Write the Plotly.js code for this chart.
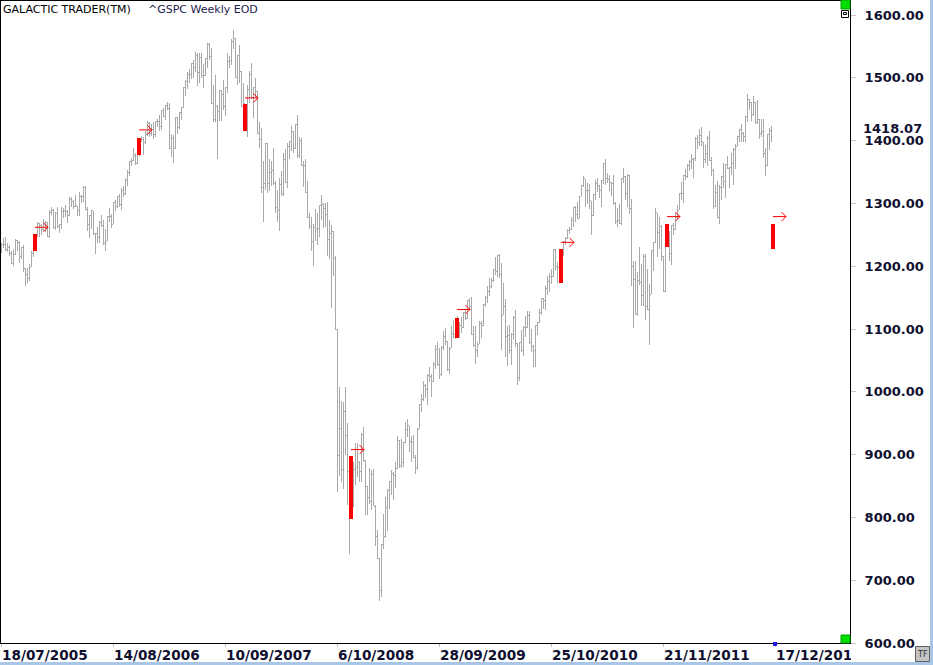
<!DOCTYPE html>
<html><head><meta charset="utf-8">
<script src="https://cdn.plot.ly/plotly-3.0.1.min.js"></script>
<style>
html,body{margin:0;padding:0;background:#fff;}
#wrap{position:relative;width:933px;height:665px;overflow:hidden;}
#chart{width:933px;height:665px;}
.clip{position:absolute;background:#fff;}
#clipA{left:851px;top:645px;width:10px;height:17px;}
#clipB{left:851px;top:650px;width:24px;height:12px;}
.ohlclayer path{shape-rendering:crispEdges;}
</style></head><body>
<div id="wrap"><div id="chart"></div><div class="clip" id="clipA"></div><div class="clip" id="clipB"></div></div>
<script>
// ---- DATA: ^GSPC weekly bars, first week starting 2005-07-18 ----
const firstWeek = '2005-07-18';
const weekOpen = [
 1228,1234,1234,1226,1230,1220,1205,1218,1241,1238,1215,1229,1196,1187,1180,1198,1220,1235,1248,1268,1265,1259,1267,1269,
 1248,1285,1288,1261,1284,1264,1267,1287,1289,1287,1281,1307,1303,1295,1296,1289,1311,1311,1326,1291,1267,1280,1288,1252,1252,1245,1270,1265,1236,1240,1279,1279,1267,1302,1295,1311,1299,1320,1315,1336,1350,1366,1369,1377,1364,1381,1401,1401,1397,1410,1427,1411,
 1418,1410,1431,1431,1422,1448,1438,1456,1451,1387,1403,1387,1436,1421,1444,1453,1484,1494,1506,1506,1523,1516,1536,1508,1533,1503,1503,1530,1553,1534,1459,1433,1454,1446,1479,1474,1454,1484,1526,1527,1558,1562,1501,1535,1510,1454,1459,1441,1481,1505,1468,1484,
 1478,1412,1401,1325,1331,1395,1331,1350,1353,1331,1293,1288,1330,1315,1370,1333,1390,1398,1414,1388,1425,1376,1400,1361,1360,1318,1278,1263,1239,1261,1258,1260,1296,1298,1292,1283,1242,1252,1255,1213,1099,899,941,877,969,931,873,800,888,876,880,888,873,
 932,890,850,832,826,869,818,770,735,683,757,769,816,843,857,870,866,878,923,883,887,919,940,946,921,919,896,879,940,979,987,1010,1004,1026,1025,1016,1043,1068,1044,1027,1071,1088,1080,1036,1069,1093,1091,1091,1106,1106,1102,1126,
 1116,1145,1136,1092,1074,1066,1076,1109,1105,1139,1150,1160,1167,1178,1194,1192,1217,1187,1122,1136,1088,1089,1065,1092,1118,1077,1023,1078,1065,1103,1102,1122,1079,1072,1065,1105,1110,1126,1149,1146,1165,1176,1183,1183,1226,1199,1198,1189,1225,1240,1244,1257,
 1258,1272,1293,1283,1276,1311,1329,1339,1320,1321,1304,1280,1314,1332,1328,1320,1337,1364,1340,1338,1333,1331,1300,1271,1272,1268,1340,1343,1316,1345,1292,1199,1179,1124,1177,1174,1154,1216,1136,1131,1155,1225,1238,1285,1253,1264,1216,1159,1244,1255,1220,1265,
 1258,1278,1289,1315,1316,1345,1343,1361,1366,1370,1371,1404,1397,1408,1398,1370,1379,1403,1369,1353,1295,1318,1278,1326,1343,1335,1362,1355,1357,1363,1386,1391,1406,1418,1411,1407,1438,1466,1460,1441,1461,1429,1433,1412,1414,1380,1360,1409,1416
];
const weekHigh = [
 1237,1245,1246,1237,1234,1224,1227,1243,1242,1240,1229,1233,1197,1197,1204,1224,1235,1249,1270,1269,1267,1275,1272,1271,
 1290,1295,1291,1286,1294,1267,1294,1292,1298,1289,1310,1310,1306,1314,1296,1318,1313,1327,1327,1294,1281,1290,1288,1253,1263,1272,1281,1273,1260,1280,1292,1283,1302,1305,1312,1315,1324,1328,1340,1353,1366,1373,1389,1381,1388,1403,1407,1406,1415,1432,1429,1427,
 1429,1431,1435,1440,1449,1452,1457,1462,1460,1410,1409,1438,1438,1445,1453,1485,1496,1510,1514,1523,1529,1541,1539,1539,1540,1522,1532,1556,1556,1547,1488,1504,1456,1479,1481,1496,1485,1539,1534,1562,1576,1563,1536,1553,1511,1492,1459,1489,1511,1524,1485,1499,
 1479,1429,1420,1368,1396,1396,1370,1367,1388,1335,1321,1341,1352,1380,1386,1396,1399,1423,1416,1426,1440,1406,1404,1368,1370,1335,1285,1278,1267,1291,1284,1297,1313,1300,1301,1303,1274,1265,1256,1216,1100,1007,985,984,1008,951,882,896,889,919,919,890,935,
 944,891,850,878,875,877,819,780,735,758,805,833,846,857,876,872,889,930,923,925,920,952,956,946,930,932,899,943,980,997,1018,1013,1028,1040,1028,1048,1075,1080,1070,1073,1097,1101,1081,1071,1105,1114,1112,1120,1111,1119,1127,1130,
 1145,1150,1151,1104,1105,1080,1112,1112,1139,1153,1169,1181,1181,1195,1214,1217,1220,1205,1174,1147,1105,1106,1093,1121,1131,1078,1078,1099,1104,1121,1129,1129,1100,1074,1105,1111,1132,1149,1150,1168,1184,1189,1196,1227,1227,1207,1199,1226,1240,1247,1259,1263,
 1278,1293,1296,1303,1311,1330,1344,1339,1332,1331,1304,1315,1338,1340,1329,1338,1365,1371,1348,1346,1334,1345,1302,1293,1299,1341,1357,1343,1347,1345,1307,1209,1209,1191,1231,1204,1220,1220,1196,1171,1225,1238,1293,1285,1278,1266,1216,1260,1267,1256,1265,1269,
 1285,1297,1316,1334,1345,1354,1363,1369,1378,1372,1406,1409,1419,1422,1398,1393,1407,1415,1374,1355,1329,1335,1329,1343,1364,1362,1375,1357,1380,1389,1394,1407,1419,1427,1414,1438,1475,1466,1461,1471,1461,1464,1434,1434,1434,1389,1409,1420,1424
];
const weekLow = [
 1221,1229,1225,1222,1216,1205,1201,1218,1225,1205,1211,1191,1168,1173,1176,1198,1215,1226,1246,1246,1250,1256,1254,1248,
 1245,1282,1260,1258,1261,1253,1260,1277,1278,1269,1280,1295,1291,1294,1280,1280,1300,1303,1290,1256,1245,1259,1250,1219,1237,1237,1263,1233,1224,1240,1270,1261,1267,1288,1292,1294,1290,1310,1314,1327,1344,1359,1367,1361,1363,1375,1397,1377,1394,1408,1406,1408,
 1403,1405,1422,1416,1417,1437,1433,1448,1386,1374,1364,1386,1411,1418,1433,1452,1471,1482,1491,1498,1500,1510,1487,1492,1500,1484,1503,1515,1529,1458,1430,1429,1371,1431,1432,1449,1439,1476,1516,1521,1546,1500,1489,1492,1453,1438,1416,1406,1460,1467,1436,1468,
 1411,1389,1317,1270,1322,1316,1320,1327,1330,1284,1270,1256,1312,1312,1332,1324,1370,1383,1380,1386,1373,1373,1359,1326,1317,1278,1260,1225,1200,1240,1234,1247,1274,1261,1263,1217,1212,1134,1185,1098,840,866,857,845,900,819,741,800,816,851,864,857,857,
 889,804,804,821,812,818,754,734,667,673,749,768,779,814,835,827,847,877,879,879,880,919,928,904,889,896,869,875,940,968,986,990,979,1016,991,1016,1036,1041,1020,1025,1066,1074,1033,1029,1069,1085,1084,1086,1086,1093,1102,1115,
 1116,1131,1090,1072,1045,1056,1076,1086,1105,1135,1141,1152,1165,1175,1186,1183,1182,1066,1122,1056,1041,1060,1042,1083,1071,1011,1018,1063,1057,1088,1102,1076,1063,1040,1040,1091,1110,1122,1132,1131,1154,1159,1171,1183,1194,1173,1176,1174,1217,1233,1243,1251,
 1257,1262,1271,1275,1276,1311,1326,1294,1299,1291,1249,1280,1306,1318,1309,1295,1331,1329,1333,1319,1311,1297,1268,1262,1267,1265,1333,1306,1295,1283,1168,1102,1122,1121,1170,1136,1136,1114,1131,1075,1155,1192,1237,1215,1227,1209,1159,1159,1231,1209,1202,1249,
 1258,1274,1289,1306,1301,1337,1340,1352,1354,1340,1368,1386,1391,1392,1357,1365,1359,1367,1343,1291,1295,1277,1267,1306,1324,1309,1354,1325,1345,1329,1355,1391,1397,1398,1397,1397,1429,1449,1431,1439,1426,1427,1403,1405,1373,1343,1360,1385,1398
];
const weekClose = [
 1234,1234,1226,1230,1220,1205,1218,1241,1238,1215,1229,1196,1187,1180,1198,1220,1235,1248,1268,1265,1259,1267,1269,1248,
 1285,1288,1261,1284,1264,1267,1287,1289,1287,1281,1307,1303,1295,1296,1289,1311,1311,1326,1291,1267,1280,1288,1252,1252,1245,1270,1265,1236,1240,1279,1279,1267,1302,1295,1311,1299,1320,1315,1336,1350,1366,1369,1377,1364,1381,1401,1401,1397,1410,1427,1411,1418,
 1410,1431,1431,1422,1448,1438,1456,1451,1387,1403,1387,1436,1421,1444,1453,1484,1494,1506,1506,1523,1516,1536,1508,1533,1503,1503,1530,1553,1534,1459,1433,1454,1446,1479,1474,1454,1484,1526,1527,1558,1562,1501,1535,1510,1454,1459,1441,1481,1505,1468,1484,1478,
 1412,1401,1325,1331,1395,1331,1350,1353,1331,1293,1288,1330,1315,1370,1333,1390,1398,1414,1388,1425,1376,1400,1361,1360,1318,1278,1263,1239,1261,1258,1260,1296,1298,1292,1283,1242,1252,1255,1213,1099,899,941,877,969,931,873,800,896,876,880,888,873,932,
 890,850,832,826,869,827,770,735,683,757,769,816,843,857,870,866,878,929,883,887,919,940,946,921,919,896,879,940,979,987,1010,1004,1026,1029,1016,1043,1068,1044,1025,1071,1088,1080,1036,1069,1093,1091,1091,1106,1106,1102,1126,1115,
 1145,1136,1092,1074,1066,1076,1109,1104,1139,1150,1160,1167,1178,1194,1192,1217,1187,1111,1136,1088,1089,1065,1092,1118,1077,1023,1078,1065,1103,1102,1122,1079,1072,1065,1105,1110,1126,1149,1146,1165,1176,1183,1183,1226,1199,1200,1189,1225,1240,1244,1257,1258,
 1272,1293,1283,1276,1311,1329,1343,1320,1321,1304,1279,1314,1332,1328,1320,1337,1364,1340,1338,1333,1331,1300,1271,1272,1268,1340,1344,1316,1345,1292,1199,1179,1124,1177,1174,1154,1216,1136,1131,1155,1225,1238,1285,1253,1264,1216,1159,1244,1255,1220,1265,1258,
 1278,1289,1315,1316,1345,1343,1361,1366,1370,1371,1404,1397,1408,1398,1370,1379,1403,1369,1353,1295,1318,1278,1326,1343,1335,1362,1355,1357,1363,1386,1391,1406,1418,1411,1407,1438,1466,1460,1441,1461,1429,1433,1412,1414,1380,1360,1409,1416,1418.07
];
// highlighted (red) weeks, as week numbers counted from firstWeek
const markWeek  = [17, 69, 122, 175, 228, 280, 333, 386];
const markOpen  = [1235, 1381, 1459, 800, 1093, 1189, 1245, 1245];
const markHigh  = [1251, 1404, 1459, 897, 1118, 1227, 1267, 1268];
const markLow   = [1225, 1377, 1415, 798, 1085, 1173, 1230, 1228];
const markClose = [1248, 1400, 1440, 896, 1106, 1225, 1256, 1254];
const arrowLevel = [1262, 1417, 1468, 908, 1131, 1238, 1279, 1279];
// axis ticks
const xTickDates  = ['2005-07-18','2006-08-14','2007-09-10','2008-10-06','2009-09-28','2010-10-25','2011-11-21','2012-12-17'];
const xTickLabels = ['18/07/2005','14/08/2006','10/09/2007','6/10/2008','28/09/2009','25/10/2010','21/11/2011','17/12/2012'];
const yTickVals = [600,700,800,900,1000,1100,1200,1300,1400,1500,1600];
const chartTitle = 'GALACTIC TRADER(TM)';
const symbolTitle = '^GSPC Weekly EOD';

// ---- helpers ----
const DAY = 86400000;
const t0 = Date.parse(firstWeek + 'T00:00:00Z');
function weekDate(i){ return new Date(t0 + i*7*DAY).toISOString().slice(0,10); }
const dates = weekOpen.map((_, i) => weekDate(i));
const markDates = markWeek.map(weekDate);

// plot area in page pixels: x 1..850, y 1..643
const PL = 1, PT = 1, PW = 849, PH = 642;
const px = v => (v - PL) / PW;
const py = v => (PT + PH - v) / PH;

const navy = '#101030';
const labFont = {family:'DejaVu Sans', size:13, color:navy, weight:'bold'};
const xLabFont = {family:'DejaVu Sans', size:13.6, color:navy, weight:'bold'};
const grey = '#a9a9a9';

const traces = [
 {type:'ohlc', x:dates, open:weekOpen, high:weekHigh, low:weekLow, close:weekClose,
  increasing:{line:{color:grey, width:1}}, decreasing:{line:{color:grey, width:1}},
  tickwidth:0.5, hoverinfo:'skip', showlegend:false},
 {type:'ohlc', x:markDates, open:markOpen, high:markHigh, low:markLow, close:markClose,
  increasing:{line:{color:'#ff0000', width:3.5}}, decreasing:{line:{color:'#ff0000', width:3.5}},
  tickwidth:0.03, hoverinfo:'skip', showlegend:false}
];

const annotations = [];
xTickDates.forEach((d, k) => annotations.push({
  x:d, xref:'x', y:0, yref:'paper', xanchor:'left', yanchor:'top', yshift:-3,
  text:xTickLabels[k], showarrow:false, font:xLabFont, borderpad:0}));
const lastClose = weekClose[weekClose.length-1];
annotations.push({x:1, xref:'paper', y:lastClose, yref:'y', xanchor:'left', yanchor:'middle',
  xshift:12, yshift:1, text:lastClose.toFixed(2), showarrow:false, font:labFont, borderpad:0});
annotations.push({x:px(2), xref:'paper', y:py(2), yref:'paper', xanchor:'left', yanchor:'top',
  text:chartTitle, showarrow:false, font:{family:'DejaVu Sans', size:11, color:'#000'}, borderpad:0});
annotations.push({x:px(147), xref:'paper', y:py(2), yref:'paper', xanchor:'left', yanchor:'top',
  text:symbolTitle, showarrow:false, font:{family:'DejaVu Sans', size:11, color:'#1c1c50'}, borderpad:0});
annotations.push({x:px(922.5), xref:'paper', y:py(654), yref:'paper', xanchor:'center', yanchor:'middle',
  text:'TF', showarrow:false, font:{family:'DejaVu Sans', size:8, color:'#303030'}, borderpad:0});

function rect(x0, y0, x1, y1, fill, line, lw){
  return {type:'rect', xref:'paper', yref:'paper', x0:px(x0), x1:px(x1), y0:py(y1), y1:py(y0),
    fillcolor:fill, line:{color:line || fill, width:lw === undefined ? 0 : lw}, layer:'above'};
}
const shapes = [
  rect(930, 0, 933, 665, '#a9c6e6'),
  rect(0, 662, 930, 665, '#a9c6e6'),
  rect(841, 0, 850, 9, '#00e000', '#00a000', 1),
  rect(841.5, 10.5, 848.5, 17.5, '#ffffff', '#000000', 1),
  rect(843.5, 12.5, 846.5, 14.5, 'rgba(0,0,0,0)', '#000000', 1),
  rect(841, 635, 850, 643, '#00e000', '#00a000', 1),
  rect(773, 642, 777, 646, '#1a1ae0'),
  rect(915.5, 646.5, 929.5, 661.5, '#c4c4c4', '#606060', 1)
];
// thin open arrows "→", anchored at each highlighted week and its arrow level
markDates.forEach((d, k) => shapes.push({
  type:'path', xref:'x', yref:'y', xsizemode:'pixel', ysizemode:'pixel',
  xanchor:d, yanchor:arrowLevel[k],
  path:'M0,0 L13,0 M8.5,-4.5 L13,0 L8.5,4.5',
  line:{color:'#ff0000', width:1}, layer:'above'}));

const layout = {
  width:933, height:665,
  margin:{l:PL, r:933-PL-PW, t:PT, b:665-PT-PH, pad:0},
  paper_bgcolor:'#ffffff', plot_bgcolor:'#ffffff',
  font:{family:'DejaVu Sans', size:11, color:'#000'},
  showlegend:false, dragmode:false,
  xaxis:{type:'date', range:[firstWeek, '2013-09-05 12:00'], tickvals:xTickDates,
    ticks:'outside', ticklen:3, tickcolor:'#c0c0c0', showticklabels:false,
    showline:true, linecolor:'#000', linewidth:1, mirror:true, showgrid:false, zeroline:false,
    rangeslider:{visible:false}, fixedrange:true},
  yaxis:{side:'right', range:[600, 600 + PH/0.628], tickvals:yTickVals,
    ticktext:yTickVals.map(v => v.toFixed(2)), ticks:'outside', ticklen:5, tickcolor:'#c8c8c8',
    tickfont:labFont, ticklabelstandoff:6,
    showline:true, linecolor:'#000', linewidth:1, mirror:true, showgrid:false, zeroline:false, fixedrange:true},
  annotations:annotations,
  shapes:shapes
};

Plotly.newPlot('chart', traces, layout, {displayModeBar:false, staticPlot:true});
</script></body></html>
